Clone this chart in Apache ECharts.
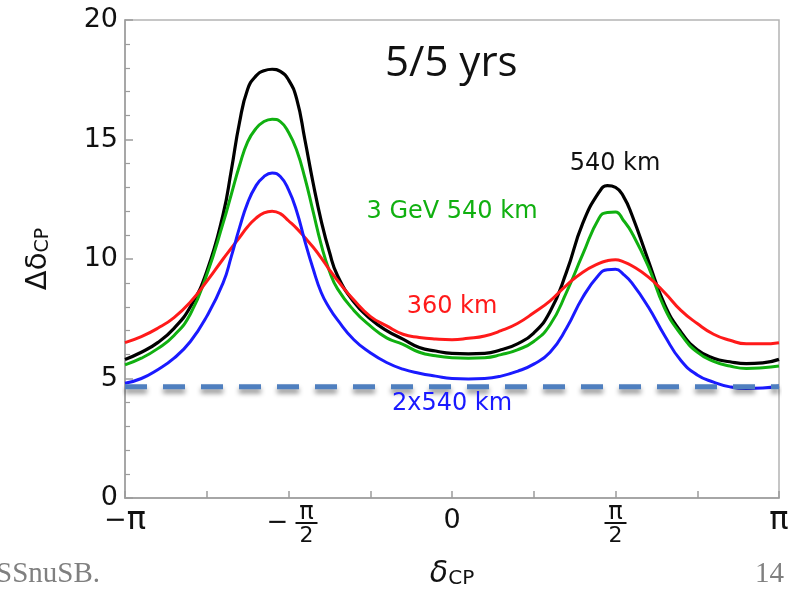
<!DOCTYPE html>
<html>
<head>
<meta charset="utf-8">
<script src="https://cdn.jsdelivr.net/npm/echarts@6/dist/echarts.min.js"></script>
<style>
html,body{margin:0;padding:0;background:#fff;}
#chart{width:794px;height:594px;}
</style>
</head>
<body>
<div id="chart"></div>
<script>
// delta_CP in units of pi
const deltaOverPi = [-1, -0.95, -0.9, -0.85, -0.8, -0.75, -0.7, -0.675, -0.65, -0.625, -0.6, -0.575, -0.55, -0.525, -0.5, -0.475, -0.45, -0.425, -0.4, -0.375, -0.35, -0.3, -0.25, -0.2, -0.15, -0.1, -0.05, 0, 0.05, 0.1, 0.15, 0.2, 0.25, 0.3, 0.35, 0.4, 0.45, 0.475, 0.5, 0.525, 0.55, 0.6, 0.65, 0.7, 0.75, 0.8, 0.85, 0.9, 0.95, 1];

const km540 = [5.80, 6.10, 6.50, 7.10, 8.00, 9.48, 11.87, 13.7, 15.7, 17.1, 17.65, 17.88, 17.94, 17.85, 17.5, 16.7, 15.0, 13.2, 11.6, 10.3, 9.3, 8.2, 7.5, 7.0, 6.65, 6.30, 6.15, 6.05, 6.03, 6.05, 6.2, 6.45, 6.9, 7.8, 9.45, 11.5, 12.8, 13.07, 13.0, 12.6, 11.85, 9.95, 8.1, 6.95, 6.2, 5.85, 5.7, 5.62, 5.65, 5.80];
const gev3km540 = [5.57, 5.85, 6.25, 6.8, 7.7, 9.34, 11.5, 12.7, 13.9, 14.9, 15.45, 15.75, 15.85, 15.75, 15.3, 14.55, 13.4, 12.0, 10.6, 9.5, 8.75, 7.85, 7.2, 6.7, 6.43, 6.1, 5.95, 5.87, 5.85, 5.87, 6.0, 6.2, 6.55, 7.25, 8.6, 10.2, 11.72, 11.95, 11.97, 11.6, 11.1, 9.7, 7.95, 6.85, 6.1, 5.72, 5.52, 5.42, 5.45, 5.52];
const km360 = [6.50, 6.75, 7.1, 7.55, 8.2, 9.06, 10.0, 10.45, 10.9, 11.35, 11.7, 11.93, 12.0, 11.9, 11.6, 11.28, 10.9, 10.5, 10.05, 9.55, 9.1, 8.28, 7.6, 7.2, 6.85, 6.72, 6.65, 6.62, 6.68, 6.78, 7.0, 7.3, 7.75, 8.25, 8.9, 9.45, 9.82, 9.93, 9.97, 9.88, 9.72, 9.25, 8.6, 7.85, 7.3, 6.85, 6.6, 6.45, 6.45, 6.50];
const km2x540 = [4.80, 5.0, 5.37, 5.85, 6.55, 7.6, 9.0, 10.1, 11.3, 12.35, 13.05, 13.45, 13.6, 13.45, 12.9, 12.0, 10.75, 9.6, 8.6, 7.95, 7.45, 6.62, 6.08, 5.67, 5.39, 5.22, 5.1, 5.0, 4.98, 5.0, 5.1, 5.3, 5.6, 6.1, 7.1, 8.4, 9.35, 9.55, 9.57, 9.35, 9.0, 8.0, 6.8, 5.75, 5.15, 4.85, 4.65, 4.58, 4.6, 4.69];

const thresholdX = [-1, 1];
const thresholdY = [4.66, 4.66];

const yTicks = [0, 5, 10, 15, 20];

const seriesNames = ['540 km', '3 GeV 540 km', '360 km', '2x540 km'];
const seriesColors = ['#000000', '#10b010', '#ff1a1a', '#1a1aff'];
const seriesValues = [km540, gev3km540, km360, km2x540];

const pairs = (xs, ys) => xs.map((x, i) => [x, ys[i]]);

const FONT = '"DejaVu Sans", sans-serif';

const chart = echarts.init(document.getElementById('chart'), null, {renderer: 'canvas'});

const curveSeries = seriesValues.map((vals, i) => ({
  name: seriesNames[i],
  type: 'line',
  data: pairs(deltaOverPi, vals),
  smooth: 0.5,
  showSymbol: false,
  symbol: 'none',
  z: 3 + i,
  lineStyle: {color: seriesColors[i], width: i === 0 ? 3.2 : 3}
}));

function xLabel(v) {
  const r = Math.round(v * 100) / 100;
  if (r === -1) return '{big|−}{pi|π}';
  if (r === 1) return '{pi|π}';
  if (r === 0) return '{big|0}';
  if (r === -0.5) return '{pad|}{fn|π}\n{mi|−}{bar| }\n{pad|}{fd|2}';
  if (r === 0.5) return '{fn|π}\n{bar| }\n{fd|2}';
  return '';
}

const option = {
  backgroundColor: '#ffffff',
  animation: false,
  grid: {left: 125, right: 15, top: 20, bottom: 95, show: true, borderColor: '#b4b4b4', borderWidth: 1.5, backgroundColor: 'transparent'},
  xAxis: {
    type: 'value', min: -1, max: 1, interval: 0.25,
    axisLine: {show: true, onZero: false, lineStyle: {color: '#9c9c9c', width: 1.5}},
    axisTick: {show: true, inside: true, length: 7, lineStyle: {color: '#9c9c9c', width: 1.5}},
    splitLine: {show: false},
    axisLabel: {
      show: true, margin: 8, showMinLabel: true, showMaxLabel: true, hideOverlap: false,
      formatter: xLabel,
      rich: {
        big: {fontFamily: FONT, fontSize: 27, color: '#111', lineHeight: 30},
        pi: {fontFamily: FONT, fontSize: 32, color: '#111', lineHeight: 30},
        fn: {fontFamily: FONT, fontSize: 24, color: '#111', lineHeight: 14, width: 22, align: 'center'},
        fd: {fontFamily: FONT, fontSize: 22, color: '#111', lineHeight: 20, width: 22, align: 'center'},
        bar: {width: 22, height: 2, backgroundColor: '#111', lineHeight: 6, fontSize: 2},
        mi: {fontFamily: FONT, fontSize: 26, color: '#111', width: 36, lineHeight: 6},
        pad: {width: 36, fontSize: 10}
      }
    },
    name: '{d|δ}{s|CP}', nameLocation: 'middle', nameGap: 61,
    nameTextStyle: {
      rich: {
        d: {fontFamily: FONT, fontSize: 30, fontStyle: 'italic', color: '#111', lineHeight: 30},
        s: {fontFamily: FONT, fontSize: 20, color: '#111', verticalAlign: 'bottom', lineHeight: 22}
      }
    }
  },
  yAxis: {
    type: 'value', min: 0, max: 20, interval: 5,
    axisLine: {show: true, onZero: false, lineStyle: {color: '#9c9c9c', width: 1.5}},
    axisTick: {show: true, inside: true, length: 8, lineStyle: {color: '#9c9c9c', width: 1.5}},
    minorTick: {show: true, splitNumber: 5, length: 5, lineStyle: {color: '#9c9c9c', width: 1.2}},
    splitLine: {show: false},
    axisLabel: {
      margin: 7, fontFamily: FONT, fontSize: 27, color: '#111',
      formatter: v => (yTicks.indexOf(v) >= 0 ? String(v) : '')
    },
    name: '{d|Δδ}{s|CP}', nameLocation: 'middle', nameGap: 72, nameRotate: 90,
    nameTextStyle: {
      rich: {
        d: {fontFamily: FONT, fontSize: 29, color: '#111', lineHeight: 30},
        s: {fontFamily: FONT, fontSize: 19, color: '#111', verticalAlign: 'bottom', lineHeight: 22}
      }
    }
  },
  series: curveSeries.concat([{
    name: 'threshold', type: 'line', data: pairs(thresholdX, thresholdY),
    showSymbol: false, symbol: 'none', z: 10,
    lineStyle: {color: '#4f7fbf', width: 5, type: [22, 16],
      shadowColor: 'rgba(0,0,0,0.45)', shadowBlur: 5, shadowOffsetY: 4}
  }]),
  graphic: [
    {type: 'text', z: 20, style: {text: '5/5 yrs', x: 385, y: 64, font: '42px "Open Sans", sans-serif', fill: '#111', align: 'left', textAlign: 'left', verticalAlign: 'middle', textVerticalAlign: 'middle'}},
    {type: 'text', z: 20, style: {text: '540 km', x: 615, y: 164, font: '24px ' + FONT, fill: '#111', align: 'center', textAlign: 'center', verticalAlign: 'middle', textVerticalAlign: 'middle'}},
    {type: 'text', z: 20, style: {text: '3 GeV 540 km', x: 452, y: 212, font: '24px ' + FONT, fill: '#10b010', align: 'center', textAlign: 'center', verticalAlign: 'middle', textVerticalAlign: 'middle'}},
    {type: 'text', z: 20, style: {text: '360 km', x: 452, y: 307, font: '24px ' + FONT, fill: '#ff1a1a', align: 'center', textAlign: 'center', verticalAlign: 'middle', textVerticalAlign: 'middle'}},
    {type: 'text', z: 20, style: {text: '2x540 km', x: 452, y: 404, font: '24px ' + FONT, fill: '#1a1aff', align: 'center', textAlign: 'center', verticalAlign: 'middle', textVerticalAlign: 'middle'}},
    {type: 'text', z: 20, style: {text: 'ESSnuSB.', x: 100, y: 574, font: '29px "Liberation Serif", serif', fill: '#808080', align: 'right', textAlign: 'right', verticalAlign: 'middle', textVerticalAlign: 'middle'}},
    {type: 'text', z: 20, style: {text: '14', x: 784, y: 574, font: '29px "Liberation Serif", serif', fill: '#808080', align: 'right', textAlign: 'right', verticalAlign: 'middle', textVerticalAlign: 'middle'}}
  ]
};

chart.setOption(option);
</script>
</body>
</html>
